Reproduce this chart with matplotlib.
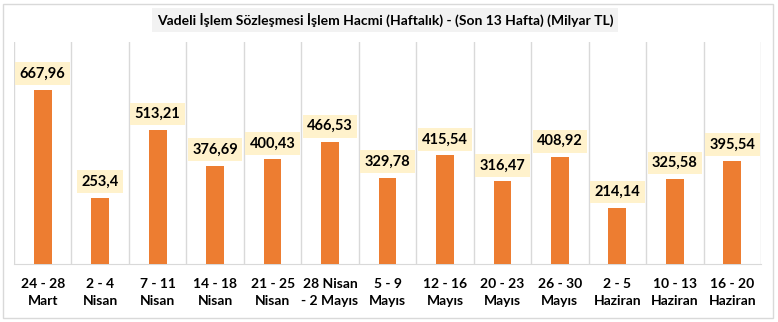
import matplotlib.pyplot as plt
import numpy as np
from matplotlib.patches import Rectangle

weeks = ["24 - 28\nMart", "2 - 4\nNisan", "7 - 11\nNisan", "14 - 18\nNisan",
         "21 - 25\nNisan", "28 Nisan\n- 2 Mayıs", "5 - 9\nMayıs", "12 - 16\nMayıs",
         "20 - 23\nMayıs", "26 - 30\nMayıs", "2 - 5\nHaziran", "10 - 13\nHaziran",
         "16 - 20\nHaziran"]
volumes = [667.96, 253.4, 513.21, 376.69, 400.43, 466.53, 329.78, 415.54,
           316.47, 408.92, 214.14, 325.58, 395.54]

plt.rcParams['font.family'] = ['Lato', 'DejaVu Sans']

fig = plt.figure(figsize=(7.78, 3.22), dpi=100)
ax = fig.add_axes([14/778, 1 - 264/322, 747/778, 222/322])

x = np.arange(len(volumes))
ax.bar(x, volumes, width=0.31, color='#ED7D31', zorder=3)

# value labels on a pale yellow box above each bar
for xi, v in zip(x, volumes):
    lbl = f"{v:g}".replace('.', ',')
    ax.annotate(lbl, (xi, v), xytext=(0, 6.5), textcoords='offset points',
                ha='center', va='bottom', fontsize=10.5, fontweight='bold',
                color='#000000', zorder=4,
                bbox=dict(boxstyle='square,pad=0.3', fc='#FFF2CC', ec='none'))

ax.set_xlim(-0.5, len(volumes) - 0.5)
ax.set_ylim(0, 850)
ax.set_yticks([])
ax.set_xticks(x)
ax.set_xticklabels(weeks, fontsize=10, fontweight='bold', linespacing=1.5)
ax.tick_params(axis='x', length=0, pad=10)

for b in np.arange(-0.5, len(volumes), 1.0):
    ax.axvline(b, color='#D9D9D9', lw=1, zorder=1)

for s in ['top', 'right', 'left']:
    ax.spines[s].set_visible(False)
ax.spines['bottom'].set_color('#D9D9D9')

fig.text(385/778, 1 - 20/322, "Vadeli İşlem Sözleşmesi İşlem Hacmi (Haftalık) - (Son 13 Hafta) (Milyar TL)",
         ha='center', va='center', fontsize=10, fontweight='bold',
         bbox=dict(boxstyle='square,pad=0.35', fc='#F2F2F2', ec='none'))

fig.patches.append(Rectangle((3/778, 4/322), 770/778, 314/322, transform=fig.transFigure,
                             fill=False, ec='#D9D9D9', lw=1))

fig.savefig('out.png', dpi=100)
